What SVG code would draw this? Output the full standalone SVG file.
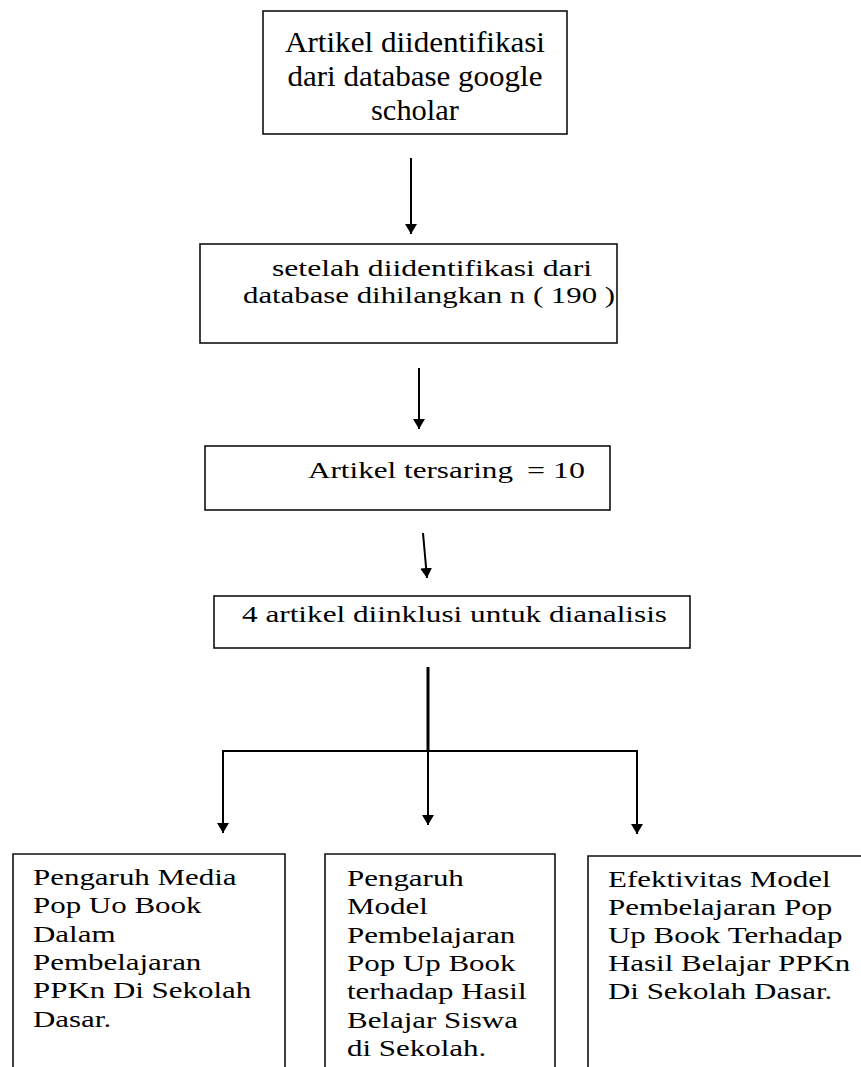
<svg xmlns="http://www.w3.org/2000/svg" width="861" height="1067" viewBox="0 0 861 1067">
<style>
  .box { fill: #ffffff; stroke: #111; stroke-width: 1.6; }
  .open { fill: none; stroke: #111; stroke-width: 1.6; }
  .t { font-family: "Liberation Serif", "Times New Roman", serif; fill: #000; }
  .conn { stroke: #000; stroke-width: 2; fill: none; }
  .thick { stroke: #000; stroke-width: 3; fill: none; }
</style>
<defs>
  <marker id="ah" viewBox="0 0 10 12" refX="10" refY="6" markerWidth="10" markerHeight="12" markerUnits="userSpaceOnUse" orient="auto">
    <path d="M0,0 L10,6 L0,12 z" fill="#000"/>
  </marker>
</defs>
<rect width="861" height="1067" fill="#ffffff"/>

<g id="connectors">
  <line class="conn" x1="411" y1="158" x2="411" y2="234" marker-end="url(#ah)"/>
  <line class="conn" x1="419" y1="368" x2="419" y2="429" marker-end="url(#ah)"/>
  <line class="conn" x1="423" y1="533" x2="427" y2="578" marker-end="url(#ah)"/>
  <line class="thick" x1="428" y1="667" x2="428" y2="752"/>
  <line class="conn" x1="223" y1="751" x2="637" y2="751" stroke-width="2.5"/>
  <line class="conn" x1="223" y1="750" x2="223" y2="833" marker-end="url(#ah)"/>
  <line class="conn" x1="428" y1="751" x2="428" y2="825" marker-end="url(#ah)"/>
  <line class="conn" x1="637" y1="750" x2="637" y2="834" marker-end="url(#ah)"/>
</g>

<g id="node1">
  <rect class="box" x="263" y="11" width="304" height="123"/>
  <text class="t" font-size="30" text-anchor="middle">
    <tspan x="415" y="52" textLength="260" lengthAdjust="spacingAndGlyphs">Artikel diidentifikasi</tspan>
  </text>
  <text class="t" font-size="30" text-anchor="middle">
    <tspan x="415" y="86" textLength="255" lengthAdjust="spacingAndGlyphs">dari database google</tspan>
  </text>
  <text class="t" font-size="30" text-anchor="middle">
    <tspan x="415" y="120" textLength="88" lengthAdjust="spacingAndGlyphs">scholar</tspan>
  </text>
</g>

<g id="node2">
  <rect class="box" x="200" y="244" width="417" height="99"/>
  <text class="t" font-size="22.5" x="272" y="276" textLength="320" lengthAdjust="spacingAndGlyphs">setelah diidentifikasi dari</text>
  <text class="t" font-size="22.5" x="243" y="303" textLength="372" lengthAdjust="spacingAndGlyphs">database dihilangkan n ( 190 )</text>
</g>

<g id="node3">
  <rect class="box" x="205" y="446" width="405" height="64"/>
  <text class="t" font-size="24" x="308" y="478" textLength="205" lengthAdjust="spacingAndGlyphs">Artikel tersaring</text>
  <text class="t" font-size="24" x="527" y="478" textLength="58" lengthAdjust="spacingAndGlyphs">= 10</text>
</g>

<g id="node4">
  <rect class="box" x="214" y="596" width="476" height="52"/>
  <text class="t" font-size="24" x="242" y="622" textLength="425" lengthAdjust="spacingAndGlyphs">4 artikel diinklusi untuk dianalisis</text>
</g>

<g id="node5">
  <path class="open" d="M13,1067 V854 H285 V1067"/>
  <g transform="matrix(1.3 0 0 1 33 0)">
    <text class="t" font-size="23.8">
      <tspan x="0" y="885">Pengaruh Media</tspan>
      <tspan x="0" y="913">Pop Uo Book</tspan>
      <tspan x="0" y="942">Dalam</tspan>
      <tspan x="0" y="970">Pembelajaran</tspan>
      <tspan x="0" y="998">PPKn Di Sekolah</tspan>
      <tspan x="0" y="1027">Dasar.</tspan>
    </text>
  </g>
</g>

<g id="node6">
  <path class="open" d="M325,1067 V854 H555 V1067"/>
  <g transform="matrix(1.3 0 0 1 347 0)">
    <text class="t" font-size="23.8">
      <tspan x="0" y="886">Pengaruh</tspan>
      <tspan x="0" y="914">Model</tspan>
      <tspan x="0" y="943">Pembelajaran</tspan>
      <tspan x="0" y="971">Pop Up Book</tspan>
      <tspan x="0" y="999">terhadap Hasil</tspan>
      <tspan x="0" y="1028">Belajar Siswa</tspan>
      <tspan x="0" y="1056">di Sekolah.</tspan>
    </text>
  </g>
</g>

<g id="node7">
  <path class="open" d="M588,1067 V856 H861"/>
  <g transform="matrix(1.3 0 0 1 608 0)">
    <text class="t" font-size="23.8">
      <tspan x="0" y="887">Efektivitas Model</tspan>
      <tspan x="0" y="915">Pembelajaran Pop</tspan>
      <tspan x="0" y="943">Up Book Terhadap</tspan>
      <tspan x="0" y="971">Hasil Belajar PPKn</tspan>
      <tspan x="0" y="999">Di Sekolah Dasar.</tspan>
    </text>
  </g>
</g>
</svg>
